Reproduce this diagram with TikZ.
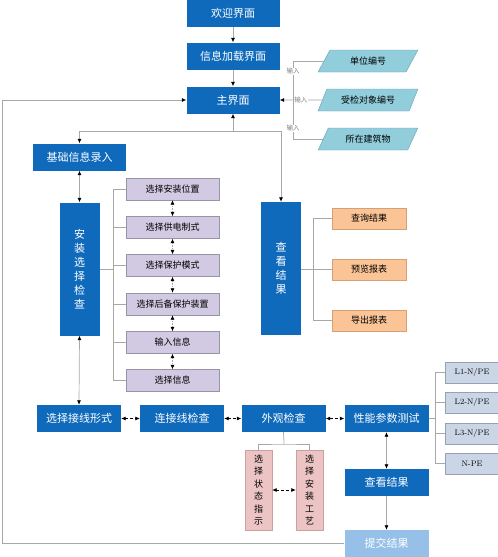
\documentclass[tikz,border=0pt]{standalone}
\usepackage{fontspec}
\newfontfamily\cjk{Noto Sans CJK SC}
\usetikzlibrary{arrows.meta,shapes.geometric}
\definecolor{boxblue}{RGB}{16,106,188}
\definecolor{linegray}{RGB}{168,168,168}
\definecolor{inteal}{RGB}{146,205,220}
\definecolor{inborder}{RGB}{95,160,180}
\definecolor{optpurple}{RGB}{210,202,226}
\definecolor{optborder}{RGB}{150,148,165}
\definecolor{resorange}{RGB}{250,196,150}
\definecolor{resborder}{RGB}{215,160,115}
\definecolor{testgray}{RGB}{202,213,230}
\definecolor{testborder}{RGB}{150,162,180}
\definecolor{craftpink}{RGB}{236,196,196}
\definecolor{craftborder}{RGB}{205,160,160}
\definecolor{submitblue}{RGB}{150,192,232}

\begin{document}
\begin{tikzpicture}[x=1pt,y=-1pt,
  base/.style={font=\cjk\fontsize{9}{11}\selectfont, inner sep=1pt},
  mainbox/.style={base, fill=boxblue, text=white, font=\cjk\fontsize{11}{14}\selectfont,
    minimum width=93, minimum height=27},
  tall/.style={minimum width=40, minimum height=133, align=center},
  inbox/.style={base, trapezium, trapezium left angle=60, trapezium right angle=120,
    trapezium stretches=true, fill=inteal, draw=inborder, minimum width=100, minimum height=22},
  optbox/.style={base, fill=optpurple, draw=optborder, minimum width=93, minimum height=22},
  resbox/.style={base, fill=resorange, draw=resborder, minimum width=74, minimum height=21},
  testbox/.style={base, fill=testgray, draw=testborder, minimum width=54, minimum height=21,
    font=\rmfamily\fontsize{8}{10}\selectfont},
  craftbox/.style={base, fill=craftpink, draw=craftborder, minimum width=27, minimum height=80,
    align=center, font=\cjk\fontsize{9}{12.4}\selectfont},
  line/.style={draw=linegray, line width=0.7pt},
  arr/.style={line, -{Latex[length=4.5pt,width=4pt,color=black]}},
  dbl/.style={line, {Latex[length=4.5pt,width=4pt,color=black]}-{Latex[length=4.5pt,width=4pt,color=black]}},
  lab/.style={font=\cjk\fontsize{6.5}{7}\selectfont, text=gray, fill=white, inner sep=0.5pt}]
\useasboundingbox (0,0) rectangle (498,557);

% top of the flow
\node[mainbox] (welcome) at (233,13) {欢迎界面};
\node[mainbox] (load) at (233,56) {信息加载界面};
\node[mainbox] (main) at (233,100) {主界面};
\draw[arr] (welcome.south) -- (load.north);
\draw[arr] (load.south) -- (main.north);

% inputs
\node[inbox] (unit) at (368,61) {单位编号};
\node[inbox] (object) at (368,100) {受检对象编号};
\node[inbox] (building) at (368,139) {所在建筑物};
\coordinate (bus) at (293,100);
\draw[line] (unit.west) -| (bus) node[lab, pos=0.63] {输入};
\draw[line] (building.west) -| (bus) node[lab, pos=0.64] {输入};
\draw[arr] (object.west) -- (main.east) node[lab, pos=0.5] {输入};

% branches of the main screen
\node[mainbox] (basic) at (79.5,157) {基础信息录入};
\node[mainbox, tall] (install) at (79.5,269) {安\\装\\选\\择\\检\\查};
\node[mainbox, tall] (view) at (281,268.5) {查\\看\\结\\果};
\coordinate (split) at (233,131);
\draw[arr] (split) -- (main.south);
\draw[arr] (split) -| (basic.north);
\draw[arr] (split) -| (view.north);
\draw[dbl] (basic.south) -- (install.north);

% install options
\node[optbox] (opt1) at (172.5,189) {选择安装位置};
\node[optbox] (opt2) at (172.5,227.5) {选择供电制式};
\node[optbox] (opt3) at (172.5,265.5) {选择保护模式};
\node[optbox] (opt4) at (172.5,304) {选择后备保护装置};
\node[optbox] (opt5) at (172.5,342.5) {输入信息};
\node[optbox] (opt6) at (172.5,380.5) {选择信息};
\coordinate (ibus) at (113,269);
\draw[line] (install.east) -- (ibus);
\draw[line] (opt1.west -| ibus) -- (opt6.west -| ibus);
\foreach \i in {1,...,6}
  \draw[line] (opt\i.west) -- (opt\i.west -| ibus);
\foreach \i/\j in {1/2,2/3,3/4,4/5,5/6}
  \draw[dbl, densely dotted] (opt\i.south) -- (opt\j.north);

% result actions
\node[resbox] (query) at (369,218.5) {查询结果};
\node[resbox] (preview) at (369,269.5) {预览报表};
\node[resbox] (export) at (369,320.5) {导出报表};
\coordinate (vbus) at (313,269.5);
\draw[line] (view.east |- vbus) -- (vbus);
\draw[line] (query.west) -| (vbus);
\draw[line] (export.west) -| (vbus);
\draw[line] (preview.west) -- (vbus);

% check row
\node[mainbox, minimum width=84] (wiring) at (79,418.5) {选择接线形式};
\node[mainbox, minimum width=84] (connect) at (182,418.5) {连接线检查};
\node[mainbox, minimum width=84] (look) at (283.5,418.5) {外观检查};
\node[mainbox, minimum width=84] (perf) at (386.5,418.5) {性能参数测试};
\draw[dbl] (install.south) -- (wiring.north);
\draw[dbl, draw=black, densely dashed] (wiring.east) -- (connect.west);
\draw[dbl, draw=black, densely dashed] (connect.east) -- (look.west);
\draw[dbl, draw=black, densely dashed] (look.east) -- (perf.west);

% performance tests
\node[testbox] (l1) at (472,372.5) {L1-N/PE};
\node[testbox] (l2) at (472,402.5) {L2-N/PE};
\node[testbox] (l3) at (472,433.5) {L3-N/PE};
\node[testbox] (npe) at (472,463.5) {N-PE};
\coordinate (lbus) at (435,418.5);
\draw[line] (perf.east) -- (lbus);
\draw[line] (l1.west) -| (lbus);
\draw[line] (npe.west) -| (lbus);
\draw[line] (l2.west) -- (l2.west -| lbus);
\draw[line] (l3.west) -- (l3.west -| lbus);

% appearance check
\node[craftbox] (state) at (258.5,490) {选\\择\\状\\态\\指\\示};
\node[craftbox] (craft) at (309.5,490) {选\\择\\安\\装\\工\\艺};
\coordinate (lsplit) at (284,444);
\draw[line] (look.south) -- (lsplit);
\draw[line] (state.north) |- (lsplit) -| (craft.north);
\draw[dbl, draw=black, densely dashed] (state.east) -- (craft.west);

% results and submit
\node[mainbox, minimum width=84] (view2) at (386.5,482.5) {查看结果};
\node[mainbox, minimum width=84, fill=submitblue] (submit) at (386.5,543.5) {提交结果};
\draw[dbl] (perf.south) -- (view2.north);
\draw[arr] (view2.south) -- (submit.north);
\coordinate (loop) at (2,543.5);
\draw[arr] (submit.west) -- (loop) |- (main.west);
\end{tikzpicture}
\end{document}
